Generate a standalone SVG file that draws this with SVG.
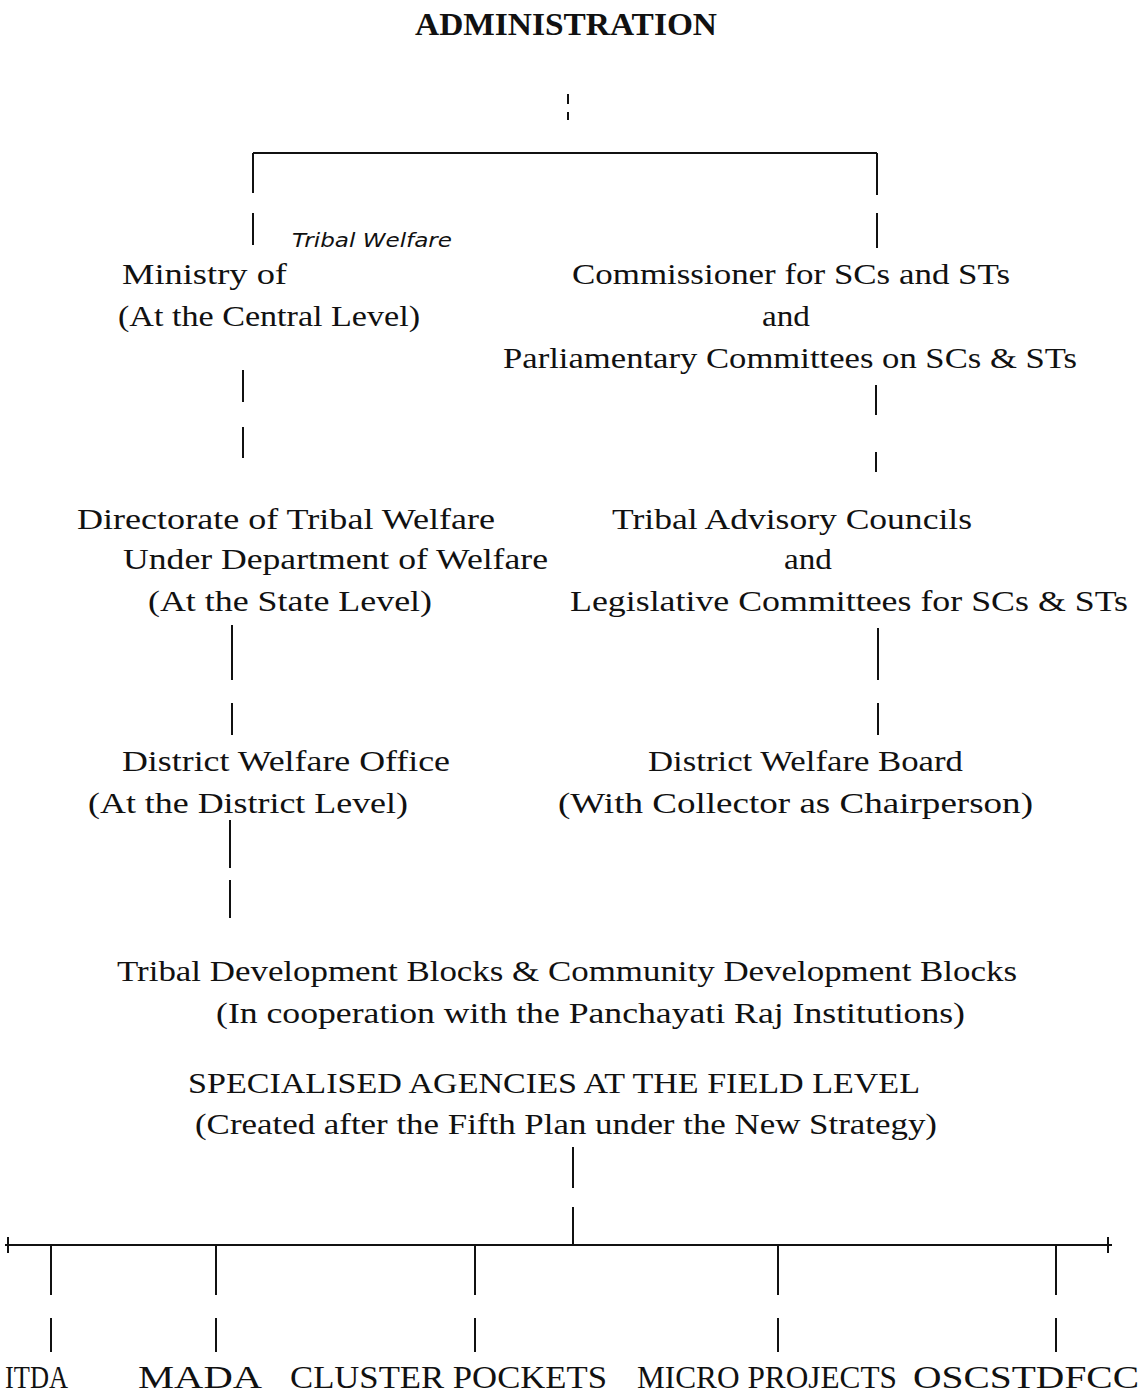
<svg xmlns="http://www.w3.org/2000/svg" width="1142" height="1397" viewBox="0 0 1142 1397">
<style>
text{font-family:"Liberation Serif","Times New Roman",serif;font-size:30px;fill:#111;}
.b{font-weight:bold;font-size:32px;}
.lab{font-size:32px;}
.hw{font-family:"DejaVu Sans",sans-serif;font-style:italic;font-size:19px;}
.c line{stroke:#111;stroke-width:2;}
</style>
<rect width="1142" height="1397" fill="#fff"/>
<g id="title"><text x="415" y="35" class="b" textLength="302" lengthAdjust="spacingAndGlyphs">ADMINISTRATION</text></g>
<g id="ministry">
<text x="122" y="284" textLength="165" lengthAdjust="spacingAndGlyphs">Ministry of</text>
<text x="292" y="247" class="hw" textLength="160" lengthAdjust="spacingAndGlyphs">Tribal Welfare</text>
<text x="118" y="326" textLength="302" lengthAdjust="spacingAndGlyphs">(At the Central Level)</text>
</g>
<g id="commissioner">
<text x="572" y="284" textLength="438" lengthAdjust="spacingAndGlyphs">Commissioner for SCs and STs</text>
<text x="762" y="326" textLength="48" lengthAdjust="spacingAndGlyphs">and</text>
<text x="503" y="368" textLength="574" lengthAdjust="spacingAndGlyphs">Parliamentary Committees on SCs &amp; STs</text>
</g>
<g id="directorate">
<text x="77" y="529" textLength="418" lengthAdjust="spacingAndGlyphs">Directorate of Tribal Welfare</text>
<text x="123" y="569" textLength="425" lengthAdjust="spacingAndGlyphs">Under Department of Welfare</text>
<text x="148" y="611" textLength="284" lengthAdjust="spacingAndGlyphs">(At the State Level)</text>
</g>
<g id="tac">
<text x="612" y="529" textLength="360" lengthAdjust="spacingAndGlyphs">Tribal Advisory Councils</text>
<text x="784" y="569" textLength="48" lengthAdjust="spacingAndGlyphs">and</text>
<text x="570" y="611" textLength="558" lengthAdjust="spacingAndGlyphs">Legislative Committees for SCs &amp; STs</text>
</g>
<g id="dwo">
<text x="122" y="771" textLength="328" lengthAdjust="spacingAndGlyphs">District Welfare Office</text>
<text x="88" y="813" textLength="320" lengthAdjust="spacingAndGlyphs">(At the District Level)</text>
</g>
<g id="dwb">
<text x="648" y="771" textLength="315" lengthAdjust="spacingAndGlyphs">District Welfare Board</text>
<text x="558" y="813" textLength="475" lengthAdjust="spacingAndGlyphs">(With Collector as Chairperson)</text>
</g>
<g id="blocks">
<text x="117" y="981" textLength="900" lengthAdjust="spacingAndGlyphs">Tribal Development Blocks &amp; Community Development Blocks</text>
<text x="216" y="1023" textLength="749" lengthAdjust="spacingAndGlyphs">(In cooperation with the Panchayati Raj Institutions)</text>
</g>
<g id="agencies">
<text x="188" y="1093" textLength="732" lengthAdjust="spacingAndGlyphs">SPECIALISED AGENCIES AT THE FIELD LEVEL</text>
<text x="195" y="1134" textLength="742" lengthAdjust="spacingAndGlyphs">(Created after the Fifth Plan under the New Strategy)</text>
</g>
<g id="itda"><text x="5" y="1388" class="lab" textLength="63" lengthAdjust="spacingAndGlyphs">ITDA</text></g>
<g id="mada"><text x="138" y="1388" class="lab" textLength="124" lengthAdjust="spacingAndGlyphs">MADA</text></g>
<g id="cluster"><text x="290" y="1388" class="lab" textLength="317" lengthAdjust="spacingAndGlyphs">CLUSTER POCKETS</text></g>
<g id="micro"><text x="637" y="1388" class="lab" textLength="260" lengthAdjust="spacingAndGlyphs">MICRO PROJECTS</text></g>
<g id="oscstdfcc"><text x="913" y="1388" class="lab" textLength="226" lengthAdjust="spacingAndGlyphs">OSCSTDFCC</text></g>
<g id="connectors" class="c">
<line x1="568" y1="94" x2="568" y2="104"/>
<line x1="568" y1="112" x2="568" y2="120"/>
<line x1="253" y1="153" x2="877" y2="153"/>
<line x1="253" y1="153" x2="253" y2="193"/>
<line x1="253" y1="213" x2="253" y2="245"/>
<line x1="877" y1="153" x2="877" y2="195"/>
<line x1="877" y1="213" x2="877" y2="248"/>
<line x1="243" y1="370" x2="243" y2="402"/>
<line x1="243" y1="427" x2="243" y2="458"/>
<line x1="876" y1="385" x2="876" y2="415"/>
<line x1="876" y1="452" x2="876" y2="472"/>
<line x1="232" y1="625" x2="232" y2="680"/>
<line x1="232" y1="703" x2="232" y2="735"/>
<line x1="878" y1="628" x2="878" y2="680"/>
<line x1="878" y1="703" x2="878" y2="735"/>
<line x1="230" y1="820" x2="230" y2="868"/>
<line x1="230" y1="880" x2="230" y2="918"/>
<line x1="573" y1="1147" x2="573" y2="1188"/>
<line x1="573" y1="1207" x2="573" y2="1245"/>
<line x1="5" y1="1245" x2="1112" y2="1245"/>
<line x1="8" y1="1237" x2="8" y2="1253"/>
<line x1="1108" y1="1237" x2="1108" y2="1253"/>
<line x1="51" y1="1245" x2="51" y2="1295"/>
<line x1="51" y1="1318" x2="51" y2="1352"/>
<line x1="216" y1="1245" x2="216" y2="1295"/>
<line x1="216" y1="1318" x2="216" y2="1352"/>
<line x1="475" y1="1245" x2="475" y2="1295"/>
<line x1="475" y1="1318" x2="475" y2="1352"/>
<line x1="778" y1="1245" x2="778" y2="1295"/>
<line x1="778" y1="1318" x2="778" y2="1352"/>
<line x1="1056" y1="1245" x2="1056" y2="1295"/>
<line x1="1056" y1="1318" x2="1056" y2="1352"/>
</g>
</svg>
